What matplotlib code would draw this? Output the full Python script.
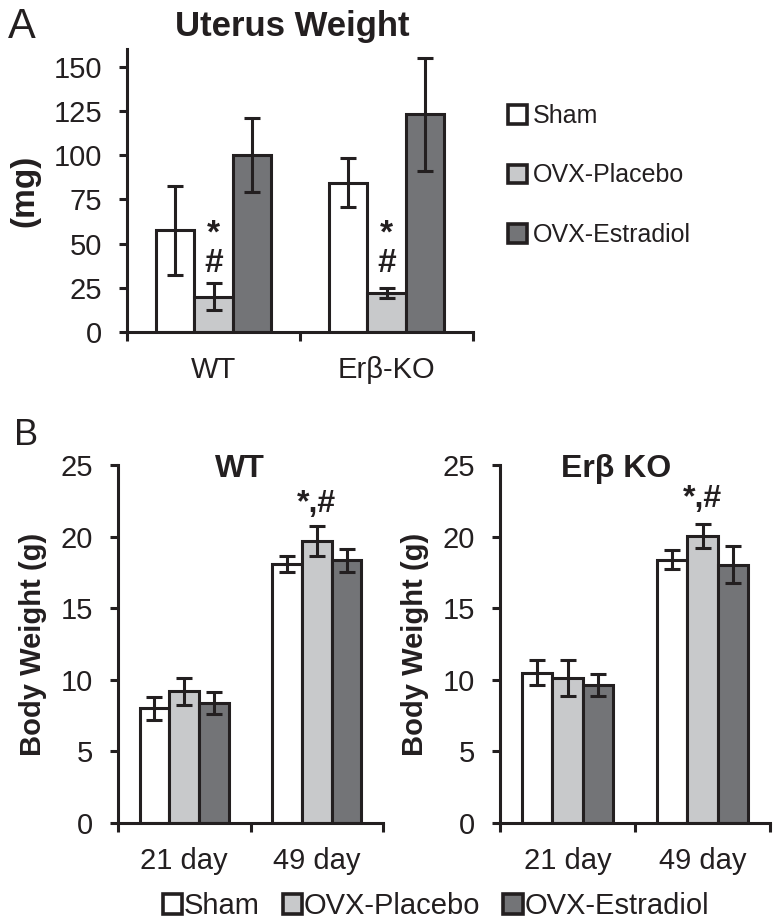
import numpy as np
import matplotlib
matplotlib.use("Agg")
import matplotlib.pyplot as plt
from matplotlib.patches import Patch

plt.rcParams['font.family'] = ['Liberation Sans', 'DejaVu Sans']

# data
treatments = ["Sham", "OVX-Placebo", "OVX-Estradiol"]
colors = ["#ffffff", "#c8c9cb", "#737477"]

# panel A - uterus weight (mg)
uterus_groups = ["WT", "Erβ-KO"]
uterus_sham = [57.5, 84.5]
uterus_sham_err = [25, 13.7]
uterus_placebo = [20, 22]
uterus_placebo_err = [7.5, 2.8]
uterus_estradiol = [100, 123]
uterus_estradiol_err = [21, 32]

# panel B - body weight (g)
days = ["21 day", "49 day"]
wt_sham = [8.0, 18.1]
wt_sham_err = [0.8, 0.55]
wt_placebo = [9.2, 19.7]
wt_placebo_err = [0.95, 1.05]
wt_estradiol = [8.4, 18.35]
wt_estradiol_err = [0.78, 0.8]
ko_sham = [10.5, 18.4]
ko_sham_err = [0.87, 0.66]
ko_placebo = [10.15, 20.05]
ko_placebo_err = [1.25, 0.82]
ko_estradiol = [9.65, 18.05]
ko_estradiol_err = [0.78, 1.3]

W, H = 776, 924
ink = "#231f20"
lw = 2.2


def fx(px):
    return px / W


def fy(py):
    return 1 - py / H


def draw_bars(ax, means, errs, width):
    x = np.arange(2)
    for i, (m, e) in enumerate(zip(means, errs)):
        ax.bar(x + (i - 1) * width, m, width, yerr=e, color=colors[i],
               edgecolor=ink, linewidth=lw,
               error_kw=dict(ecolor=ink, elinewidth=lw, capsize=6, capthick=lw))


def style(ax, top, yticks, xlabels):
    ax.set_xlim(-0.5, 1.5)
    ax.set_ylim(0, top)
    ax.set_yticks(yticks)
    for s in ["top", "right"]:
        ax.spines[s].set_visible(False)
    for s in ["left", "bottom"]:
        ax.spines[s].set_linewidth(lw)
        ax.spines[s].set_color(ink)
    ax.tick_params(axis="y", direction="out", length=6, width=lw, pad=12,
                   labelsize=21, colors=ink)
    ax.set_xticks([0, 1])
    ax.set_xticklabels(xlabels)
    ax.tick_params(axis="x", which="major", length=0, pad=17, labelsize=21,
                   colors=ink)
    ax.set_xticks([-0.5, 0.5, 1.5], minor=True)
    ax.tick_params(axis="x", which="minor", direction="out", length=6.5,
                   width=lw, color=ink)


fig = plt.figure(figsize=(W / 100, H / 100), dpi=100)

# ---- panel A ----
ax_a = fig.add_axes([fx(127), fy(332), (473 - 127) / W, (332 - 49) / H])
draw_bars(ax_a, [uterus_sham, uterus_placebo, uterus_estradiol],
          [uterus_sham_err, uterus_placebo_err, uterus_estradiol_err], 0.222)
style(ax_a, 160, np.arange(0, 151, 25), uterus_groups)
fig.text(fx(25), fy(191), "(mg)", rotation=90, ha="center", va="center",
         fontsize=24, fontweight="bold", color=ink)
# significance marks stacked above the placebo bars
for g in range(2):
    ax_a.text(g, 47, "*\n#", ha="center", va="center", fontsize=24,
              fontweight="bold", color=ink, linespacing=0.95)

fig.text(fx(292), fy(36), "Uterus Weight", ha="center", va="baseline",
         fontsize=25, fontweight="bold", color=ink)
fig.text(fx(8), fy(38), "A", ha="left", va="baseline", fontsize=30, color=ink)

handles = [Patch(facecolor=c, edgecolor=ink, linewidth=2.6) for c in colors]
fig.legend(handles, treatments, loc="upper left",
           bbox_to_anchor=(fx(508), fy(104)), frameon=False, fontsize=18,
           handlelength=0.76, handleheight=0.76, handletextpad=0.25,
           labelspacing=1.42, borderpad=0, borderaxespad=0,
           labelcolor=ink)

# ---- panel B ----
ax_b1 = fig.add_axes([fx(118), fy(823), (383 - 118) / W, (823 - 465) / H])
draw_bars(ax_b1, [wt_sham, wt_placebo, wt_estradiol],
          [wt_sham_err, wt_placebo_err, wt_estradiol_err], 0.225)
style(ax_b1, 25, np.arange(0, 26, 5), days)

ax_b2 = fig.add_axes([fx(500), fy(823), (770 - 500) / W, (823 - 465) / H])
draw_bars(ax_b2, [ko_sham, ko_placebo, ko_estradiol],
          [ko_sham_err, ko_placebo_err, ko_estradiol_err], 0.225)
style(ax_b2, 25, np.arange(0, 26, 5), days)

for ax, title, tx, star_y in [(ax_b1, "WT", 0.46, 21.2),
                              (ax_b2, "Erβ KO", 0.43, 21.6)]:
    ax.set_ylabel("Body Weight (g)", fontsize=21, fontweight="bold",
                  color=ink, labelpad=10)
    ax.text(tx, 0.9665, title, transform=ax.transAxes, ha="center",
            va="baseline", fontsize=23, fontweight="bold", color=ink)
    ax.text(1, star_y, "*,#", ha="center", va="bottom", fontsize=23,
            fontweight="bold", color=ink)

fig.text(fx(14), fy(445), "B", ha="left", va="baseline", fontsize=26, color=ink)

fig.legend(handles, treatments, loc="center left", ncol=3,
           bbox_to_anchor=(fx(163), fy(906)), frameon=False, fontsize=21,
           handlelength=0.66, handleheight=0.66, handletextpad=0.05,
           columnspacing=0.8, borderpad=0, borderaxespad=0, labelcolor=ink)

fig.savefig("out.png", dpi=100)
